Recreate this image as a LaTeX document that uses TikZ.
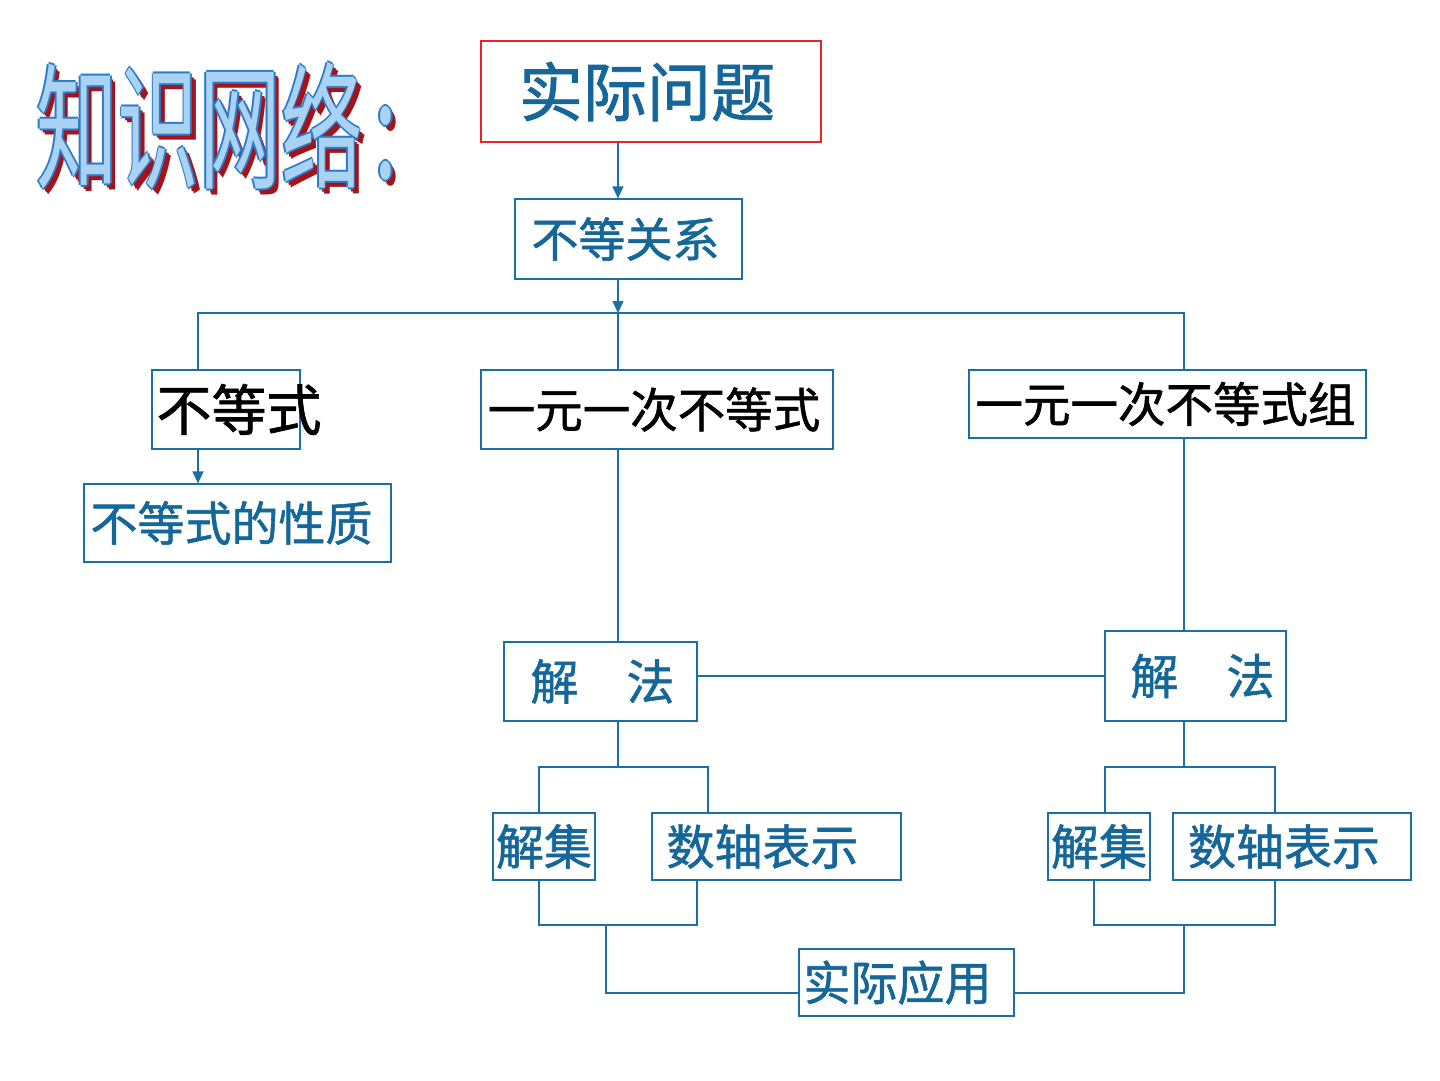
\documentclass[tikz,border=0pt]{standalone}
\usepackage{fontspec}
\usepackage{graphicx}
\usetikzlibrary{arrows.meta}
\newfontfamily\cjk[FakeBold=1.2]{Noto Sans CJK SC}
\newfontfamily\cjkart{Noto Sans CJK SC}
\definecolor{tblue}{HTML}{15679A}
\definecolor{lblue}{HTML}{1B6FA3}
\definecolor{bred}{HTML}{E8242A}
\definecolor{shred}{HTML}{A3131B}
\definecolor{artlight}{HTML}{A9D2F3}
\definecolor{artblue}{HTML}{2A7CC8}
\newcommand\artword{知识网络\hspace{20pt}:}
\newcommand\artlayer[3]{\makebox[0pt][l]{\hspace*{#1}\raisebox{#2}{\textcolor{#3}{\artword}}}}
\newcommand\shiftx[2]{\makebox[0pt]{\hspace*{#1}#2}}
\begin{document}
\begin{tikzpicture}[x=1pt,y=-1pt,
  box/.style={draw=lblue, line width=1.2pt, inner sep=0pt, text=tblue},
  fs/.style={font=\cjk\fontsize{#1}{#1}\selectfont},
  conn/.style={draw=lblue, line width=1.3pt},
  arr/.style={conn, -{Triangle[width=11pt,length=12pt]}}]
\useasboundingbox (0,0) rectangle (1440,1080);
\fill[white] (0,0) rectangle (1440,1080);

% title
\node[anchor=west, inner sep=0pt, font=\cjkart\fontsize{136pt}{136pt}\selectfont] (title) at (36,128) {\scalebox{0.6}[1]{%
 \artlayer{9pt}{-6pt}{shred}\artlayer{6pt}{-4pt}{shred}%
 \artlayer{3pt}{0pt}{artblue}\artlayer{-3pt}{0pt}{artblue}\artlayer{0pt}{2pt}{artblue}\artlayer{0pt}{-2pt}{artblue}%
 \textcolor{artlight}{\artword}}};

% boxes
\node[box, draw=bred, minimum width=340pt, minimum height=101pt, fs=64pt] (sjwt) at (651,91.5) {\shiftx{-8pt}{实际问题}};
\node[box, minimum width=227pt, minimum height=80pt, fs=47pt] (bdgx) at (628.5,239) {\shiftx{-6pt}{不等关系}};
\node[box, minimum width=148pt, minimum height=79pt, fs=55pt, text=black] (bds) at (226,409.5) {\shiftx{26pt}{不等式}};
\node[box, minimum width=307pt, minimum height=78pt, fs=47pt] (xz) at (237.5,523) {\shiftx{-12pt}{不等式的性质}};
\node[box, minimum width=352pt, minimum height=79pt, fs=47.5pt, text=black] (yy) at (657,409.5) {\shiftx{-6pt}{一元一次不等式}};
\node[box, minimum width=397pt, minimum height=68pt, fs=47.5pt, text=black] (zu) at (1167.5,404) {\shiftx{-4pt}{一元一次不等式组}};
\node[box, minimum width=193pt, minimum height=79pt, fs=48pt] (jf1) at (600.5,681.5) {\shiftx{4pt}{解\hspace{48pt}法}};
\node[box, minimum width=181pt, minimum height=90pt, fs=48pt] (jf2) at (1195.5,676) {\shiftx{14pt}{解\hspace{48pt}法}};
\node[box, minimum width=102pt, minimum height=67pt, fs=48pt] (jj1) at (544,846.5) {解集};
\node[box, minimum width=249pt, minimum height=67pt, fs=48pt] (sz1) at (776.5,846.5) {\shiftx{-28pt}{数轴表示}};
\node[box, minimum width=102pt, minimum height=67pt, fs=48pt] (jj2) at (1099,846.5) {解集};
\node[box, minimum width=238pt, minimum height=67pt, fs=48pt] (sz2) at (1292,846.5) {\shiftx{-16pt}{数轴表示}};
\node[box, minimum width=215pt, minimum height=67pt, fs=47pt] (sy) at (906.5,982.5) {\shiftx{-18pt}{实际应用}};

% reference coordinates
\coordinate (xm) at (618,0);
\coordinate (xl) at (198,0);
\coordinate (xr) at (1184,0);
\coordinate (bus) at (0,313);
\coordinate (ja1) at (539,767);
\coordinate (jb1) at (708,767);
\coordinate (ka1) at (539,925);
\coordinate (kb1) at (697,925);
\coordinate (kc1) at (606,925);
\coordinate (ja2) at (1105,767);
\coordinate (jb2) at (1275,767);
\coordinate (ka2) at (1094,925);
\coordinate (kb2) at (1275,925);
\coordinate (ybot) at (0,993);

% connectors
\draw[arr] (sjwt.south -| xm) -- (bdgx.north -| xm);
\draw[arr] (bdgx.south -| xm) -- (bus -| xm);
\draw[conn] (bds.north -| xl) -- (bus -| xl) -- (bus -| xr) -- (zu.north -| xr);
\draw[conn] (bus -| xm) -- (yy.north -| xm);
\draw[arr] (bds.south -| xl) -- (xz.north -| xl);
\draw[conn] (yy.south -| xm) -- (jf1.north -| xm);
\draw[conn] (zu.south -| xr) -- (jf2.north -| xr);
\draw[conn] (jf1.east |- jf2.west) -- (jf2.west);

\draw[conn] (jf1.south -| xm) -- (ja1 -| xm);
\draw[conn] (jj1.north -| ja1) -- (ja1) -- (jb1) -- (sz1.north -| jb1);
\draw[conn] (jj1.south -| ka1) -- (ka1) -- (kb1) -- (sz1.south -| kb1);
\draw[conn] (kc1) -- (ybot -| kc1) -- (sy.west |- ybot);

\draw[conn] (jf2.south -| xr) -- (ja2 -| xr);
\draw[conn] (jj2.north -| ja2) -- (ja2) -- (jb2) -- (sz2.north -| jb2);
\draw[conn] (jj2.south -| ka2) -- (ka2) -- (kb2) -- (sz2.south -| kb2);
\draw[conn] (ka2 -| xr) -- (ybot -| xr) -- (sy.east |- ybot);
\end{tikzpicture}
\end{document}
